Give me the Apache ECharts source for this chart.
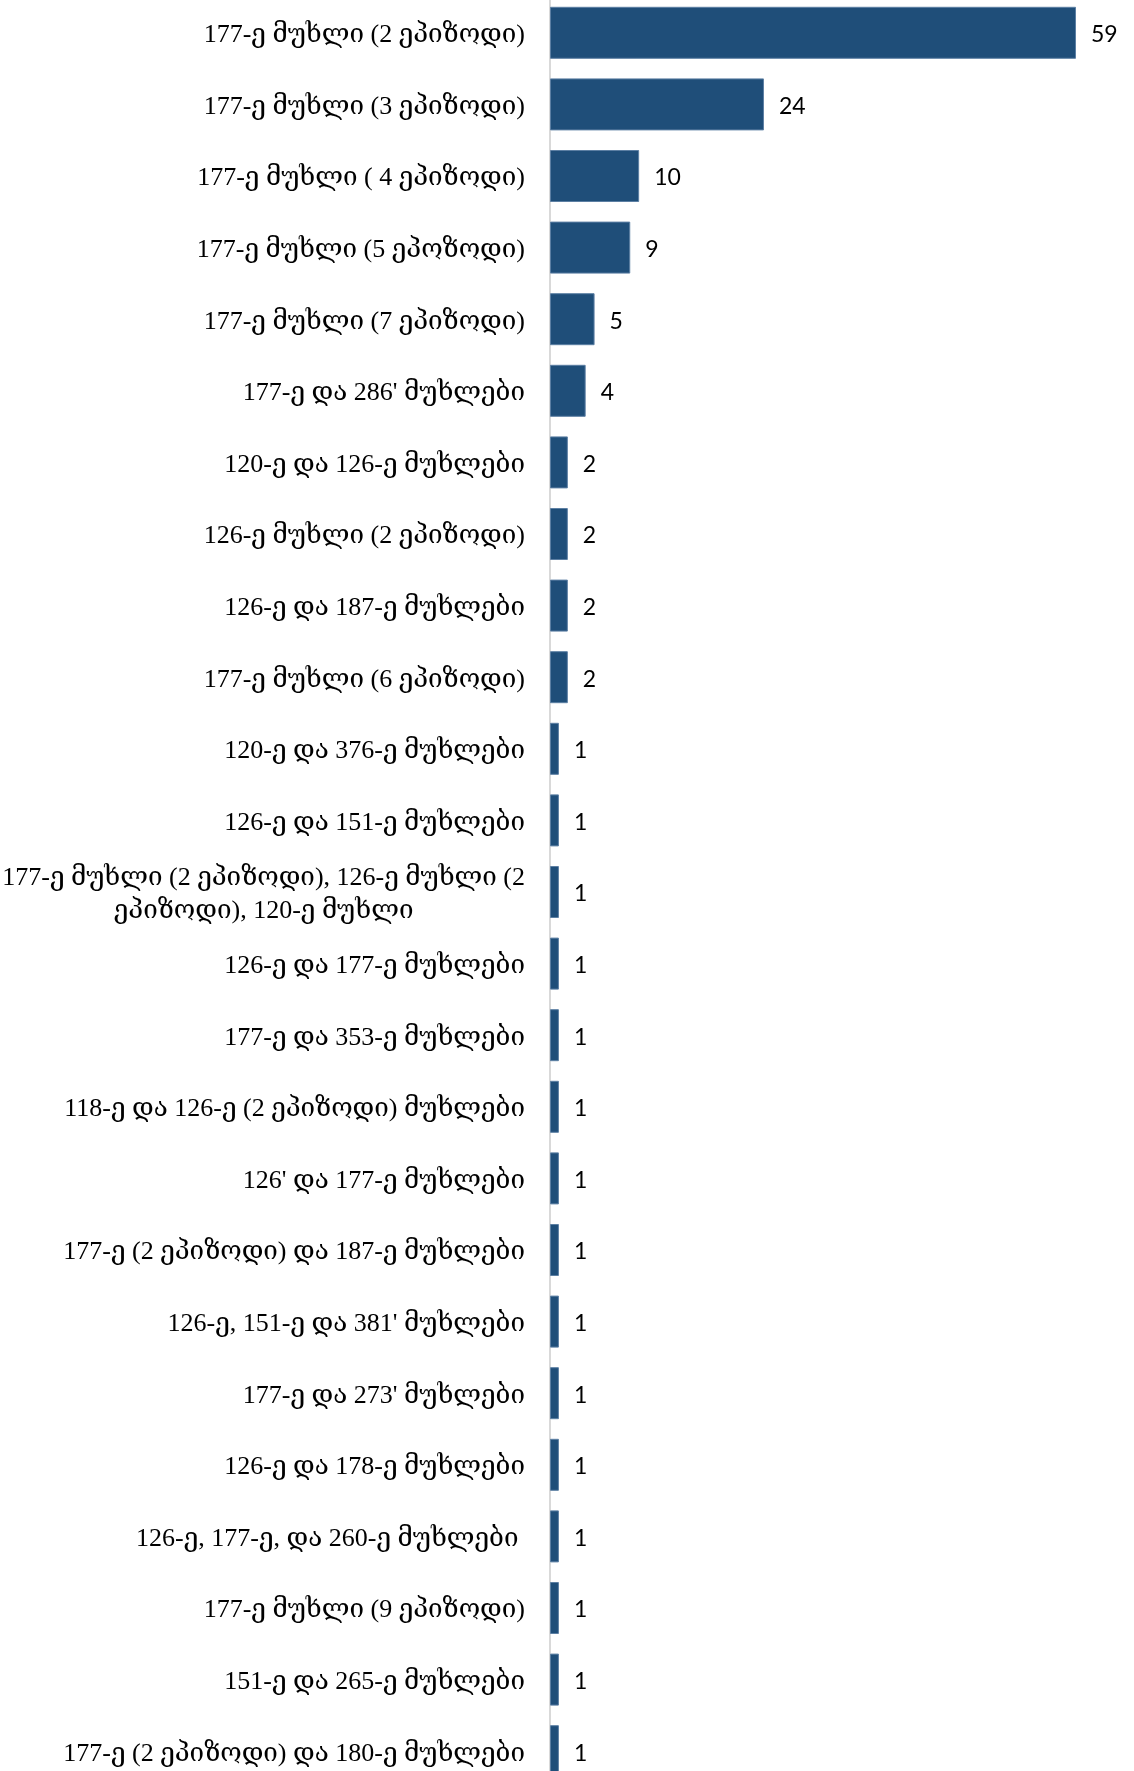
<!DOCTYPE html>
<html>
<head>
<meta charset="utf-8">
<script src="https://cdn.jsdelivr.net/npm/echarts@6/dist/echarts.min.js"></script>
<style>
html,body{margin:0;padding:0;background:#fff;}
#chart{width:1134px;height:1771px;}
</style>
</head>
<body>
<div id="chart"></div>
<script>
const categories = [
  "177-ე მუხლი (2 ეპიზოდი)",
  "177-ე მუხლი (3 ეპიზოდი)",
  "177-ე მუხლი ( 4 ეპიზოდი)",
  "177-ე მუხლი (5 ეპოზოდი)",
  "177-ე მუხლი (7 ეპიზოდი)",
  "177-ე და 286' მუხლები",
  "120-ე და 126-ე მუხლები",
  "126-ე მუხლი (2 ეპიზოდი)",
  "126-ე და 187-ე მუხლები",
  "177-ე მუხლი (6 ეპიზოდი)",
  "120-ე და 376-ე მუხლები",
  "126-ე და 151-ე მუხლები",
  "177-ე მუხლი (2 ეპიზოდი), 126-ე მუხლი (2\nეპიზოდი), 120-ე მუხლი",
  "126-ე და 177-ე მუხლები",
  "177-ე და 353-ე მუხლები",
  "118-ე და 126-ე (2 ეპიზოდი) მუხლები",
  "126' და 177-ე მუხლები",
  "177-ე (2 ეპიზოდი) და 187-ე მუხლები",
  "126-ე, 151-ე და 381' მუხლები",
  "177-ე და 273' მუხლები",
  "126-ე და 178-ე მუხლები",
  "126-ე, 177-ე, და 260-ე მუხლები ",
  "177-ე მუხლი (9 ეპიზოდი)",
  "151-ე და 265-ე მუხლები",
  "177-ე (2 ეპიზოდი) და 180-ე მუხლები"
];
const values = [59, 24, 10, 9, 5, 4, 2, 2, 2, 2, 1, 1, 1, 1, 1, 1, 1, 1, 1, 1, 1, 1, 1, 1, 1];

const chart = echarts.init(document.getElementById('chart'), null, {renderer: 'canvas'});
chart.setOption({
  animation: false,
  backgroundColor: '#ffffff',
  grid: {left: 550, width: 526, top: -3, height: 1790, containLabel: false, outerBoundsMode: 'none'},
  xAxis: {type: 'value', min: 0, max: 59, show: false},
  yAxis: {
    type: 'category',
    data: categories,
    inverse: true,
    axisLine: {show: true, lineStyle: {color: '#d9d9d9', width: 2}},
    axisTick: {show: false},
    splitLine: {show: false},
    axisLabel: {
      margin: 25,
      color: '#000',
      fontFamily: '"Liberation Serif", "DejaVu Serif", serif',
      fontSize: 26,
      lineHeight: 33,
      interval: 0,
      hideOverlap: false,
      padding: [5, 0, 0, 0],
      formatter: function (v) {
        return v.split('\n').map(function (l) { return '{c|' + l + '}'; }).join('\n');
      },
      rich: {
        c: {
          align: 'center',
          color: '#000',
          fontFamily: '"Liberation Serif", "DejaVu Serif", serif',
          fontSize: 26,
          lineHeight: 33
        }
      }
    }
  },
  series: [{
    type: 'bar',
    data: values,
    barWidth: 52,
    itemStyle: {color: '#1f4e79', borderColor: '#5c7fa3', borderWidth: 1},
    label: {
      show: true,
      position: 'right',
      distance: 15,
      offset: [0, 2],
      color: '#000',
      fontFamily: 'Lato, "Open Sans", sans-serif',
      fontSize: 23
    }
  }]
});
</script>
</body>
</html>
